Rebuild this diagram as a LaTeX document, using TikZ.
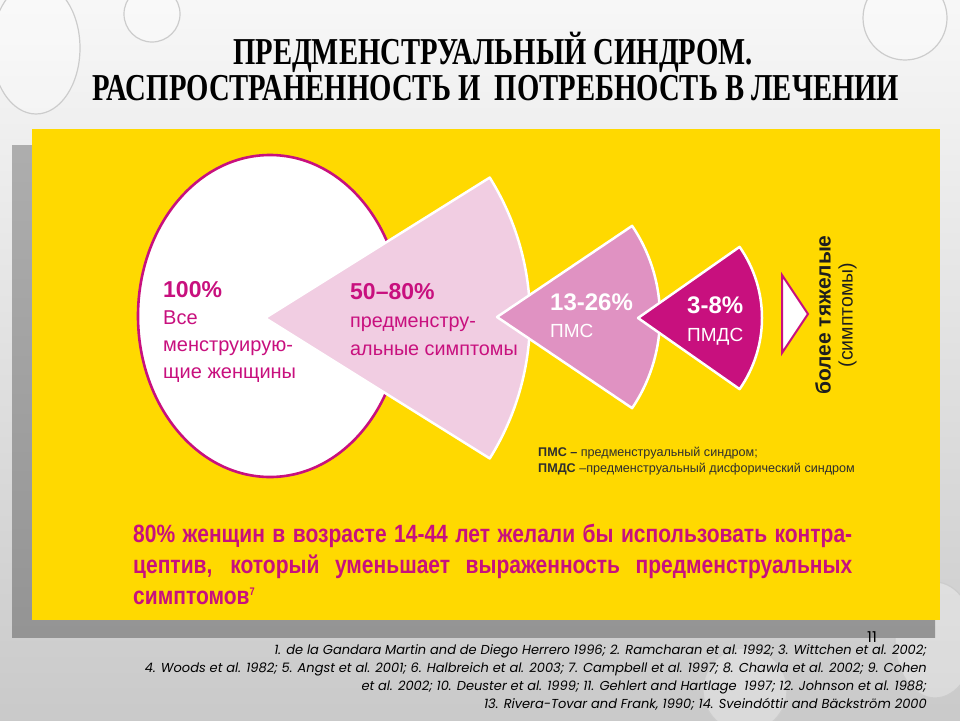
\documentclass[tikz,border=0pt]{standalone}
\usepackage{fontspec}
\setmainfont{Liberation Sans}
\newfontfamily\headfont[FakeStretch=0.755]{Liberation Serif}
\newfontfamily\narrowfont[FakeStretch=0.84]{Liberation Sans}
\newfontfamily\reffont{Poppins}
\usepackage{xcolor}
\definecolor{cYellow}{HTML}{FFD900}
\definecolor{cMagenta}{HTML}{C8107E}
\definecolor{cPinkLight}{HTML}{F1CDE2}
\definecolor{cPinkMid}{HTML}{E092C2}
\definecolor{cShadow}{HTML}{A0A0A0}
\definecolor{cInk}{HTML}{1E1E1E}
\newcommand\txtbig{\bfseries\fontsize{23}{23}\selectfont}
\newcommand\txtwhitebig{\bfseries\fontsize{24}{24}\selectfont}
\newcommand\refmark[1]{{\fontsize{11}{11}\selectfont\raisebox{9pt}{#1}}}
\usepackage{tikz}
\usetikzlibrary{positioning,shadings}
\tikzset{
  sector/.style={draw=white,line width=2.5pt,line join=round},
  sector-light/.style={sector,fill=cPinkLight},
  sector-mid/.style={sector,fill=cPinkMid},
  sector-dark/.style={sector,fill=cMagenta},
  ring-all/.style={draw=cMagenta,line width=2.6pt,fill=white},
  marker-tri/.style={draw=cMagenta,line width=2pt,fill=white,line join=miter},
  drop/.style={draw=black!20,line width=1.2pt,fill=white,fill opacity=0.3},
  txt-block/.style={inner sep=0pt,anchor=north west,align=left},
  txt-head/.style={inner sep=0pt,anchor=base,font=\headfont\bfseries\fontsize{38}{38}\selectfont},
}

\begin{document}
\begin{tikzpicture}[x=1pt,y=-1pt]
  \useasboundingbox (0,0) rectangle (960,720);
  \shade[top color=white!97!black,bottom color=black!21] (0,0) rectangle (960,720);
  % капли на фоне
  \draw[drop] (36,48) ellipse [x radius=44pt,y radius=66pt];
  \draw[drop] (152,14) circle [radius=28pt];
  \draw[drop] (905,18) circle [radius=42pt];
  \draw[drop] (935,640) ellipse [x radius=40pt,y radius=58pt];
  \draw[drop] (745,690) circle [radius=42pt];

  \shade[top color=black!32,bottom color=black!42] (12,145) rectangle (935,637);
  \fill[cYellow] (32,129) rectangle (940,620);

  \draw[ring-all] (270,316) ellipse [x radius=132pt,y radius=161pt];
  \filldraw[sector-light] (265,318) -- +(32:265) arc[start angle=32,end angle=-32,radius=265] -- cycle;
  \filldraw[sector-mid] (497,317) -- +(34:163) arc[start angle=34,end angle=-34,radius=163] -- cycle;
  \filldraw[sector-dark] (638,318) -- +(35:124) arc[start angle=35,end angle=-35,radius=124] -- cycle;
  \filldraw[marker-tri] (782,275) -- (808,314) -- (782,353) -- cycle;

  \node[txt-head] (title1) at (493,64) {ПРЕДМЕНСТРУАЛЬНЫЙ СИНДРОМ.};
  \node[txt-head] (title2) at (496,100) {РАСПРОСТРАНЕННОСТЬ И\ \ ПОТРЕБНОСТЬ В ЛЕЧЕНИИ};

  \node[txt-block,text=cMagenta,font=\fontsize{20}{27}\selectfont] (all) at (163,281)
    {{\txtbig 100\%}\\ Все\\ менструирую-\\ щие женщины};
  \node[txt-block,text=cMagenta,font=\fontsize{19.8}{28}\selectfont] (sympt) at (350,283)
    {{\txtbig 50–80\%}\\ предменстру-\\ альные симптомы};
  \node[txt-block,text=white,font=\fontsize{19}{27}\selectfont] (pms) at (550,294)
    {{\txtwhitebig 13-26\%}\\ ПМС};
  \node[txt-block,text=white,font=\fontsize{19}{28}\selectfont] (pmds) at (687,297)
    {{\txtwhitebig 3-8\%}\\ ПМДС};
  \node[rotate=90,align=center,text=cInk,inner sep=0pt,font=\fontsize{19.5}{22}\selectfont] (severe) at (836,315)
    {{\bfseries\fontsize{21}{21}\selectfont более тяжелые}\\ (симптомы)};

  \node[txt-block,text=black!82,font=\fontsize{12.6}{16}\selectfont] (legend) at (538,447)
    {\textbf{ПМС –} предменструальный синдром;\\ \textbf{ПМДС} –предменструальный дисфорический синдром};

  \node[inner sep=0pt,anchor=base west,align=left,text=cMagenta,font=\narrowfont\bfseries\fontsize{25}{31}\selectfont] (note) at (133,604)
    {\makebox[719pt][s]{80\% женщин в возрасте 14-44 лет желали бы использовать контра-}\\
     \makebox[719pt][s]{цептив, который уменьшает выраженность предменструальных}\\
     симптомов\refmark{7}};

  \node[inner sep=0pt,anchor=base east,font=\reffont\fontsize{15}{15}\selectfont] (page) at (877,642) {11};
  \node[inner sep=0pt,anchor=north east,align=right,font=\reffont\itshape\fontsize{13}{18}\selectfont] (refs) at (927,644)
    {1. de la Gandara Martin and de Diego Herrero 1996; 2. Ramcharan et al. 1992; 3. Wittchen et al. 2002;\\
     4. Woods et al. 1982; 5. Angst et al. 2001; 6. Halbreich et al. 2003; 7. Campbell et al. 1997; 8. Chawla et al. 2002; 9. Cohen\\
     et al. 2002; 10. Deuster et al. 1999; 11. Gehlert and Hartlage\ \ 1997; 12. Johnson et al. 1988;\\
     13. Rivera-Tovar and Frank, 1990; 14. Sveindóttir and Bäckström 2000};
\end{tikzpicture}
\end{document}
